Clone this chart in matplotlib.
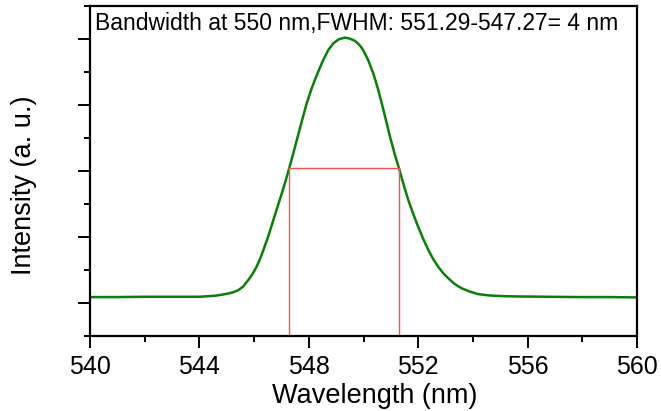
import matplotlib
matplotlib.use("Agg")
import matplotlib.pyplot as plt
from matplotlib.ticker import MultipleLocator, FixedLocator, NullFormatter

plt.rcParams['font.family'] = ['Liberation Sans', 'DejaVu Sans']

# Spectrum (wavelength in nm, intensity in arbitrary units)
wavelength = [540.0, 541.0, 542.0, 543.0, 544.0, 544.57, 544.80, 545.06, 545.25,
              545.42, 545.60, 545.79, 545.95, 546.09, 546.22, 546.34, 546.50,
              546.66, 546.83, 547.01, 547.15, 547.28, 547.42, 547.56, 547.74,
              547.92, 548.10, 548.29, 548.50, 548.71, 548.90, 549.10, 549.32,
              549.50, 549.69, 549.85, 549.99, 550.18, 550.36, 550.52, 550.67,
              550.82, 550.97, 551.13, 551.30, 551.47, 551.64, 551.82, 552.00,
              552.18, 552.37, 552.55, 552.73, 552.92, 553.10, 553.33, 553.58,
              553.88, 554.19, 554.60, 555.04, 555.60, 556.70, 558.0, 559.0, 560.0]
intensity = [1.18, 1.18, 1.19, 1.19, 1.19, 1.22, 1.25, 1.29, 1.33,
             1.39, 1.50, 1.70, 1.89, 2.10, 2.34, 2.61, 2.98,
             3.40, 3.85, 4.32, 4.70, 5.08, 5.50, 5.94, 6.50,
             7.05, 7.50, 7.91, 8.32, 8.67, 8.88, 9.00, 9.05,
             9.02, 8.95, 8.83, 8.67, 8.35, 7.96, 7.52, 7.05,
             6.55, 6.04, 5.55, 5.08, 4.58, 4.12, 3.70, 3.31,
             2.95, 2.61, 2.33, 2.10, 1.90, 1.75, 1.58, 1.45,
             1.35, 1.27, 1.23, 1.21, 1.20, 1.19, 1.18, 1.18, 1.17]

fwhm_left = 547.27
fwhm_right = 551.29
half_max = 5.09
title_text = "Bandwidth at 550 nm,FWHM: 551.29-547.27= 4 nm"
x_ticks = [540, 544, 548, 552, 556, 560]

W, H = 661, 411
fig = plt.figure(figsize=(W/100, H/100), dpi=100)
ax = fig.add_axes([90/W, 1 - 336/H, (637-90)/W, (336-6.3)/H])

ax.plot(wavelength, intensity, color='#0a7d0a', lw=1.8, solid_joinstyle='round',
        solid_capstyle='round')
red = '#ff4d4d'
ax.plot([fwhm_left, fwhm_left], [0, half_max], color=red, lw=1.0)
ax.plot([fwhm_right, fwhm_right], [0, half_max], color=red, lw=1.0)
ax.plot([fwhm_left, fwhm_right], [half_max, half_max], color=red, lw=1.0)

ax.set_xlim(540, 560)
ax.set_ylim(0, 10)
ax.set_xticks(x_ticks)
ax.xaxis.set_minor_locator(MultipleLocator(2))
ax.yaxis.set_major_locator(FixedLocator([1, 3, 5, 7, 9]))
ax.yaxis.set_minor_locator(FixedLocator([0, 2, 4, 6, 8, 10]))
ax.yaxis.set_major_formatter(NullFormatter())

ax.tick_params(axis='both', which='major', direction='out', length=8.5, width=1.4, labelsize=18, pad=5)
ax.tick_params(axis='both', which='minor', direction='out', length=4.5, width=1.4)
ax.tick_params(axis='y', which='both', left=True, right=False)
ax.tick_params(axis='x', which='both', top=False)
for s in ax.spines.values():
    s.set_linewidth(1.6)

ax.set_xlabel("Wavelength (nm)", fontsize=19.5, va='baseline')
ax.xaxis.set_label_coords((375-90)/547, (336-403)/330)
ax.set_ylabel("Intensity (a. u.)", fontsize=19.5, va='center')
ax.yaxis.set_label_coords((24-90)/547, (336-185.5)/330)
ax.text((95-90)/547, (336-30)/330, title_text, transform=ax.transAxes,
        ha='left', va='baseline', fontsize=16.5)

fig.savefig("out.png", dpi=100)
